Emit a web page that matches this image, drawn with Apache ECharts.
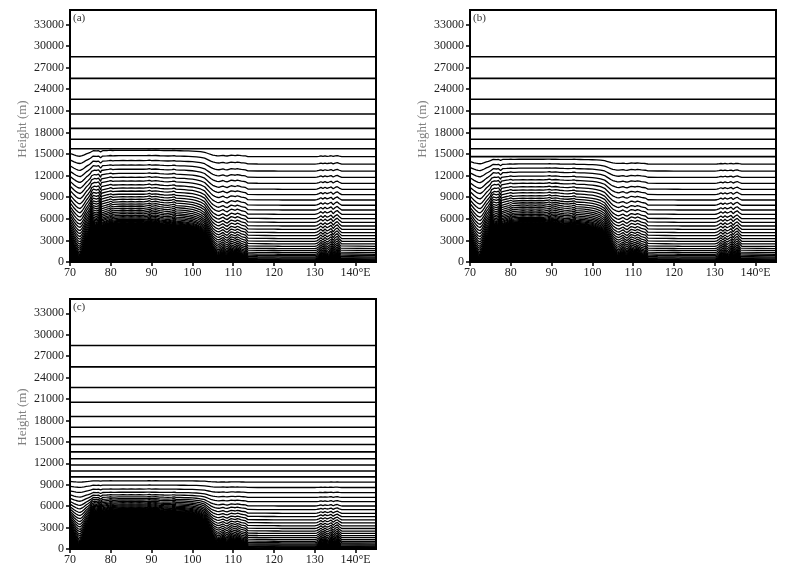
<!DOCTYPE html>
<html>
<head>
<meta charset="utf-8">
<script src="https://cdn.jsdelivr.net/npm/echarts@6/dist/echarts.min.js"></script>
<style>
html,body{margin:0;padding:0;background:#fff;}
#chart{width:796px;height:584px;}
</style>
</head>
<body>
<div id="chart"></div>
<script>
// ---- data ----
const panelLabels = ['(a)', '(b)', '(c)'];
const xTicks = [70, 80, 90, 100, 110, 120, 130, 140];
const yTicks = [0, 3000, 6000, 9000, 12000, 15000, 18000, 21000, 24000, 27000, 30000, 33000];

// longitude of terrain samples (deg E)
const lons = [70,70.5,71,71.5,72,72.5,73,73.5,74,74.5,75,75.3,75.7,76,76.5,77,77.3,77.5,77.7,78,79,79.5,80,80.5,81,82,83,84,85,86,87,88,89,89.5,90,91,92,93,94,95,95.5,96,97,98,99,100,101,102,103,103.5,104,104.5,105,105.5,106,106.5,107,107.5,108,108.5,109,109.5,110,110.5,111,111.5,112,112.5,113,113.3,113.6,114,116,118,120,121,122,130,130.5,131,131.5,132,132.5,133,133.5,134,134.5,135,135.5,136,136.3,136.6,145];
// terrain height (m)
const terrain = [2600,2000,1400,900,500,350,800,1500,2300,2900,3600,4400,4900,4800,4700,4900,4500,3900,4700,4900,5000,5100,5250,5050,5100,5150,5200,5150,5200,5150,5200,5150,5250,5350,5150,5250,5100,5000,4950,5050,5150,4900,4850,4800,4700,4600,4400,4100,3600,3000,2400,1800,1300,1000,750,650,850,1050,750,550,850,1150,1050,900,1150,1000,800,700,600,350,80,50,40,30,20,10,0,0,80,300,600,250,650,300,500,750,150,600,850,400,80,0,0];

// model level heights over flat ground (m)
const levelsFlat = [28500,25500,22600,20550,18560,17040,15720,14630,13600,12630,11750,10920,10100,9350,8610,7880,7220,6620,6020,5510,5000,4540,4080,3660,3250,2870,2510,2180,1860,1580,1310,1070,870,690,540,410,300,210,130,70,25,0];
// terrain height at the plateau reference point (m)
const plateauRef = 5200;
// the same levels over the plateau reference point, per panel (m)
const plateauA = [28500,25500,22600,20550,18560,17040,15720,15510,14780,14100,13480,12900,12320,11790,11270,10750,10290,9860,9440,9080,8720,8400,8070,7780,7490,7220,6970,6740,6510,6310,6130,5950,5820,5690,5580,5490,5410,5340,5280,5240,5215,5200];
const plateauB = [28500,25500,22600,20550,18560,17040,15720,14630,14280,13630,13040,12490,11940,11440,10950,10460,10020,9620,9220,8880,8540,8230,7920,7640,7370,7120,6870,6650,6440,6250,6070,5920,5780,5660,5560,5470,5400,5340,5280,5240,5215,5200];
const plateauC = [28500,25500,22600,20550,18560,17040,15720,14630,13600,12630,11750,10920,10100,9550,8950,8400,7950,7600,7300,7050,6850,6650,6480,6320,6170,6030,5900,5790,5690,5600,5520,5450,5390,5340,5300,5270,5245,5225,5212,5205,5201,5200];
const plateaus = [plateauA, plateauB, plateauC];

// ---- layout ----
const grids = [
  {left: 70, top: 10, width: 306, height: 252},
  {left: 470, top: 10, width: 306, height: 252},
  {left: 70, top: 299, width: 306, height: 250}
];
const serif = '"Liberation Serif", "DejaVu Serif", serif';

const chart = echarts.init(document.getElementById('chart'), null, {renderer: 'canvas'});

const option = {
  animation: false,
  backgroundColor: '#fff',
  grid: grids.map(g => Object.assign({show: true, borderColor: '#000', borderWidth: 2, backgroundColor: 'transparent'}, g)),
  xAxis: grids.map((g, i) => ({
    type: 'value', gridIndex: i, min: 70, max: 145, interval: 10,
    splitLine: {show: false},
    axisLine: {show: true, onZero: false, lineStyle: {color: '#000', width: 2}},
    axisTick: {show: true, length: 4, inside: false, lineStyle: {color: '#000', width: 1.5}, customValues: xTicks},
    axisLabel: {show: true, margin: 5, color: '#222', fontFamily: serif, fontSize: 12,
      customValues: xTicks,
      formatter: v => v === 140 ? '140\u00b0E' : String(v)}
  })),
  yAxis: grids.map((g, i) => ({
    type: 'value', gridIndex: i, min: 0, max: 35000, interval: 1000,
    splitLine: {show: false},
    axisLine: {show: true, onZero: false, lineStyle: {color: '#000', width: 2}},
    axisTick: {show: true, length: 4, lineStyle: {color: '#000', width: 1.5}, customValues: yTicks},
    axisLabel: {show: true, margin: 6, color: '#222', fontFamily: serif, fontSize: 12, customValues: yTicks,
      formatter: v => String(v)}
  })),
  graphic: [],
  series: []
};

// panel labels and y-axis titles
grids.forEach((g, i) => {
  option.graphic.push({
    type: 'text', left: g.left + 3, top: g.top + 3, z: 100,
    style: {text: panelLabels[i], fill: '#333', font: '11px ' + serif}
  });
  option.graphic.push({
    type: 'text', x: g.left - 47, y: g.top + g.height / 2 - 7, rotation: Math.PI / 2, z: 100,
    style: {text: 'Height (m)', fill: '#808080', font: '13px ' + serif, align: 'center', verticalAlign: 'middle'}
  });
});

// terrain fill and level lines
grids.forEach((g, gi) => {
  option.series.push({
    type: 'line', xAxisIndex: gi, yAxisIndex: gi, symbol: 'none', silent: true, z: 1,
    lineStyle: {color: '#000', width: 1},
    areaStyle: {color: '#000', opacity: 1, origin: 'start'},
    data: lons.map((x, j) => [x, terrain[j]])
  });
  const pl = plateaus[gi];
  levelsFlat.forEach((z0, k) => {
    const b = (pl[k] - z0) / plateauRef;
    let data;
    if (b === 0) data = [[70, z0], [145, z0]];
    else data = lons.map((x, j) => [x, z0 + b * terrain[j]]);
    option.series.push({
      type: 'line', xAxisIndex: gi, yAxisIndex: gi, symbol: 'none', silent: true, z: 2,
      lineStyle: {color: '#000', width: b === 0 ? 1.6 : 1.3},
      data: data
    });
  });
});

chart.setOption(option);
</script>
</body>
</html>
